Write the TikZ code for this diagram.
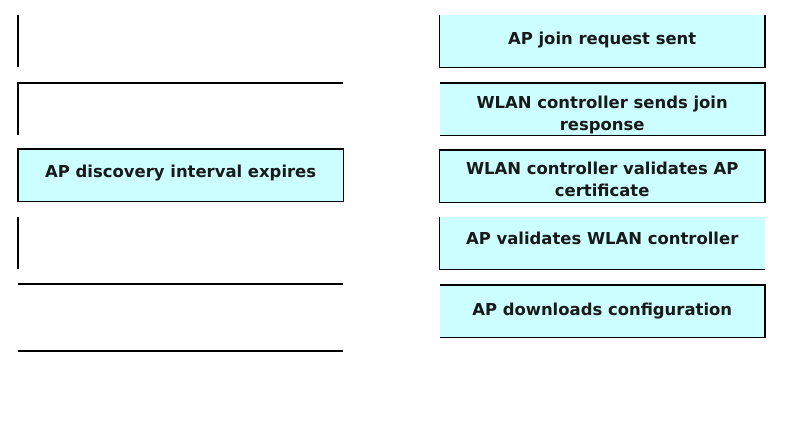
\documentclass[tikz,border=0pt]{standalone}
\usepackage{fontspec}
\setmainfont{DejaVu Sans}
\definecolor{boxcyan}{RGB}{204,255,255}
\tikzset{
  slot/.style={rectangle, inner sep=0pt, minimum width=325bp, minimum height=52bp, anchor=north west},
  filled/.style={slot, fill=boxcyan},
  lbl/.style={font=\bfseries\fontsize{16.5}{22}\selectfont, align=center, text=black!90},
  edge/.style={line width=1.4bp, black}
}
\begin{document}
\begin{tikzpicture}[x=1bp,y=-1bp]
\useasboundingbox (0,0) rectangle (786,420);
% left column
\node[slot] (L1) at (18,15) {};
\node[slot] (L2) at (18,83) {};
\node[filled] (L3) at (18,149) {};
\node[slot] (L4) at (18,217) {};
\node[slot] (L5) at (18,284) {};
\node[slot] (L6) at (18,351) {};
\node[lbl] (t3) at ([yshift=2bp]L3.center) {AP discovery interval expires};
\draw[edge] (L1.north west) -- (L1.south west);
\draw[edge] (L2.south west) -- (L2.north west) -- (L2.north east);
\draw[edge] (L3.north west) rectangle (L3.south east);
\draw[edge] (L4.north west) -- (L4.south west);
\draw[edge] (L5.north west) -- (L5.north east);
\draw[edge] (L6.north west) -- (L6.north east);
% right column
\node[filled] (R1) at (439.5,15) {};
\node[filled] (R2) at (439.5,83) {};
\node[filled] (R3) at (439.5,150) {};
\node[filled] (R4) at (439.5,217) {};
\node[filled] (R5) at (439.5,285) {};
\node[lbl] (r1) at ([yshift=1bp]R1.center) {AP join request sent};
\node[lbl] (r2) at ([yshift=-6bp]R2.center) {WLAN controller sends join\\response};
\node[lbl] (r3) at ([yshift=-3bp]R3.center) {WLAN controller validates AP\\certificate};
\node[lbl] (r4) at ([yshift=5bp]R4.center) {AP validates WLAN controller};
\node[lbl] (r5) at (R5.center) {AP downloads configuration};
\draw[edge] (R1.north west) -- (R1.south west) -- (R1.south east) -- (R1.north east);
\draw[edge] (R2.north west) -- (R2.north east) -- (R2.south east) -- (R2.south west);
\draw[edge] (R3.north west) rectangle (R3.south east);
\draw[edge] (R4.north west) -- (R4.south west) -- (R4.south east);
\draw[edge] (R5.north west) -- (R5.north east) -- (R5.south east) -- (R5.south west);
\end{tikzpicture}
\end{document}
